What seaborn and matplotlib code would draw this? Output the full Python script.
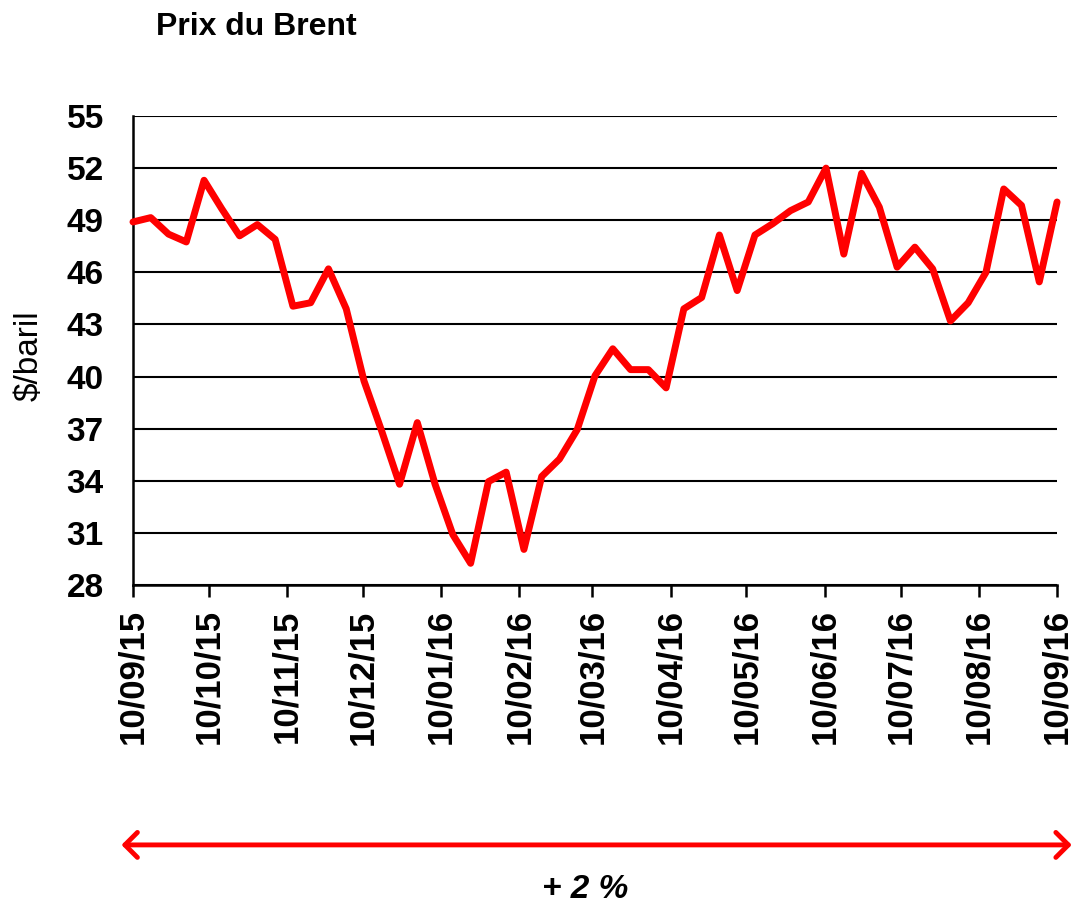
import pandas as pd
import matplotlib.pyplot as plt
import seaborn as sns

# Data: weekly Brent price ($/barrel), Sept 2015 - Sept 2016
prices = [48.9, 49.15, 48.2, 47.75, 51.3, 49.65, 48.1, 48.75, 47.9, 44.05,
          44.25, 46.2, 43.9, 39.75, 36.85, 33.8, 37.35, 33.8, 30.9, 29.25,
          33.95, 34.5, 30.05, 34.25, 35.25, 36.95, 40.05, 41.6, 40.4, 40.4,
          39.35, 43.9, 44.55, 48.15, 44.95, 48.15, 48.8, 49.55, 50.05, 52.0,
          47.05, 51.7, 49.75, 46.3, 47.45, 46.2, 43.2, 44.25, 46.0, 50.8,
          49.85, 45.45, 50.05]
start_date = "2015-09-10"
end_date = "2016-09-10"
tick_dates = ["2015-09-10", "2015-10-10", "2015-11-10", "2015-12-10", "2016-01-10",
              "2016-02-10", "2016-03-10", "2016-04-10", "2016-05-10", "2016-06-10",
              "2016-07-10", "2016-08-10", "2016-09-10"]
tick_labels = ["10/09/15", "10/10/15", "10/11/15", "10/12/15", "10/01/16",
               "10/02/16", "10/03/16", "10/04/16", "10/05/16", "10/06/16",
               "10/07/16", "10/08/16", "10/09/16"]
y_ticks = [28, 31, 34, 37, 40, 43, 46, 49, 52, 55]

df = pd.DataFrame({
    "date": pd.date_range(start_date, end_date, periods=len(prices)),
    "price": prices,
})

sns.set_style("white")
plt.rcParams["font.family"] = ["Liberation Sans", "DejaVu Sans"]
plt.rcParams["text.color"] = "black"
plt.rcParams["xtick.color"] = "black"
plt.rcParams["ytick.color"] = "black"

fig = plt.figure(figsize=(10.75, 9.09), dpi=100)
ax = fig.add_axes([0.1237, 0.3564, 0.8596, 0.516])

sns.lineplot(data=df, x="date", y="price", color="#ff0000", linewidth=5,
             ax=ax, zorder=3, solid_joinstyle="round", solid_capstyle="round",
             clip_on=False)

ax.set_xlim(pd.Timestamp(start_date), pd.Timestamp(end_date))
ax.set_ylim(28, 55)
ax.set_yticks(y_ticks)
ax.set_xticks(pd.to_datetime(tick_dates))
ax.set_xticklabels(tick_labels, rotation=90, fontsize=25, fontweight="bold",
                   color="black")
ax.set_yticklabels([str(v) for v in y_ticks], fontsize=24, fontweight="bold",
                   color="black")

ax.yaxis.grid(True, color="black", linewidth=1.5)
ax.xaxis.grid(False)
for side in ["top", "right"]:
    ax.spines[side].set_visible(False)
for side in ["left", "bottom"]:
    ax.spines[side].set_color("black")
    ax.spines[side].set_linewidth(1.8)

ax.tick_params(axis="x", direction="out", length=8.5, width=1.8, color="black",
               pad=9, bottom=True)
ax.tick_params(axis="y", length=0, pad=21)
ax.set_xlabel("")
ax.set_ylabel("")

fig.text(0.238, 0.970, "Prix du Brent", fontsize=23, fontweight="bold",
         ha="center", va="center", color="black")
fig.text(0.027, 0.609, "$/baril", fontsize=24, rotation=90,
         ha="center", va="center", color="black")

# double arrow and change annotation
ax.annotate("", xy=(0.997, 0.0705), xytext=(0.113, 0.0705),
            xycoords="figure fraction", textcoords="figure fraction",
            arrowprops=dict(arrowstyle="<->,head_length=0.45,head_width=0.45",
                            color="#ff0000", lw=3.5, mutation_scale=20,
                            shrinkA=0, shrinkB=0))
fig.text(0.544, 0.021, "+ 2 %", fontsize=24, fontweight="bold", style="italic",
         ha="center", va="center", color="black")

fig.savefig("out.png", dpi=100)
